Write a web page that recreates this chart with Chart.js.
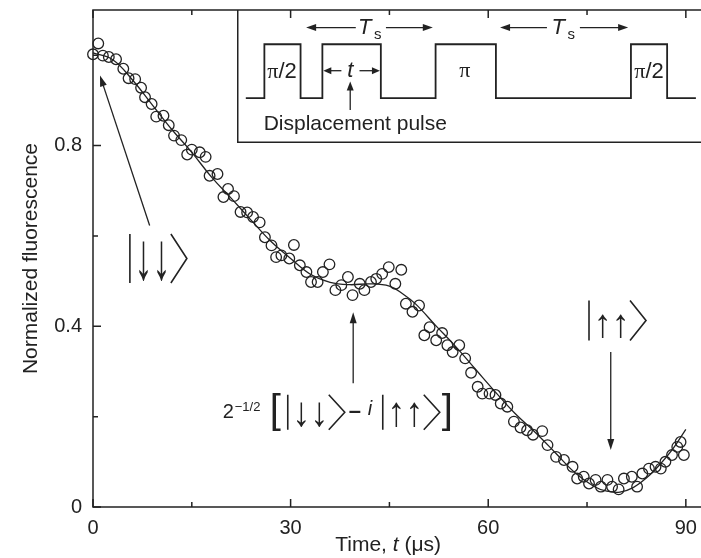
<!DOCTYPE html>
<html>
<head>
<meta charset="utf-8">
<script src="https://cdn.jsdelivr.net/npm/chart.js@4.4.1/dist/chart.umd.min.js"></script>
<style>
  body { margin: 0; background: #fff; }
  #wrap { position: relative; width: 701px; height: 558px; }
  #inset { position: absolute; left: 237px; top: 10px; }
</style>
</head>
<body>
<div id="wrap">
  <canvas id="myChart" width="701" height="558"></canvas>
  <canvas id="inset" width="464" height="133"></canvas>
</div>
<script>
// measured points (time in us, normalized fluorescence)
const times = [
  0.0, 0.8, 1.5, 2.4, 3.5, 4.6, 5.4, 6.4, 7.3, 7.9, 8.9, 9.6, 10.7, 11.5, 12.3, 13.4, 14.3, 15.0, 16.2, 17.1,
  17.7, 18.9, 19.8, 20.5, 21.4, 22.4, 23.4, 24.3, 25.3, 26.1, 27.1, 27.8, 28.6, 29.8, 30.5, 31.4, 32.4, 33.1, 34.1, 34.9,
  35.9, 36.8, 37.7, 38.7, 39.4, 40.5, 41.2, 42.2, 43.0, 43.9, 44.9, 45.9, 46.8, 47.5, 48.5, 49.5, 50.3, 51.1, 52.1, 53.0,
  53.8, 54.6, 55.6, 56.5, 57.4, 58.4, 59.1, 60.2, 61.1, 61.9, 62.9, 63.9, 64.9, 65.9, 66.8, 68.2, 69.0, 70.3, 71.5, 72.8,
  73.5, 74.5, 75.3, 76.3, 77.1, 78.1, 78.8, 79.8, 80.6, 81.8, 82.6, 83.4, 84.4, 85.4, 86.2, 86.9, 87.9, 88.7, 89.2, 89.7
];
const fluorescence = [
  1.002, 1.026, 0.999, 0.996, 0.991, 0.970, 0.949, 0.947, 0.928, 0.907, 0.892, 0.864, 0.866, 0.845, 0.822, 0.812, 0.780, 0.791, 0.785, 0.775,
  0.733, 0.737, 0.686, 0.704, 0.688, 0.653, 0.652, 0.642, 0.630, 0.597, 0.579, 0.553, 0.557, 0.550, 0.580, 0.535, 0.520, 0.498, 0.498, 0.520,
  0.537, 0.480, 0.491, 0.509, 0.469, 0.494, 0.480, 0.498, 0.505, 0.516, 0.531, 0.494, 0.525, 0.450, 0.432, 0.446, 0.380, 0.398, 0.369, 0.385,
  0.358, 0.343, 0.358, 0.329, 0.297, 0.266, 0.251, 0.251, 0.248, 0.229, 0.222, 0.189, 0.176, 0.170, 0.160, 0.168, 0.137, 0.111, 0.104, 0.089,
  0.063, 0.067, 0.052, 0.060, 0.045, 0.060, 0.045, 0.039, 0.063, 0.067, 0.045, 0.074, 0.085, 0.089, 0.085, 0.100, 0.115, 0.133, 0.144, 0.115
];
// fitted curve
const fitTimes = [0, 3, 6, 9, 12, 15, 18, 21, 24, 27, 30, 33, 36, 39, 42, 45, 47, 49, 52, 55, 58, 61, 64, 67, 70, 73, 76, 78, 80, 82, 84, 86, 88, 90];
const fitValues = [1.005, 0.99, 0.945, 0.89, 0.835, 0.785, 0.73, 0.683, 0.635, 0.588, 0.55, 0.515, 0.497, 0.492, 0.494, 0.489, 0.472, 0.449,
  0.402, 0.356, 0.306, 0.256, 0.208, 0.167, 0.123, 0.078, 0.046, 0.035, 0.033, 0.043, 0.064, 0.093, 0.128, 0.172];

const xTicks = [0, 30, 60, 90];
const xMinorTicks = [15, 45, 75];
const yTicks = [0, 0.4, 0.8];
const yMinorTicks = [0.2, 0.6, 1.0];

// inset pulse sequence (arbitrary time units 0..100)
const pulseEdges = [1.9, 5.9, 13.7, 18.4, 31.0, 42.8, 55.8, 84.9, 92.7, 98.9];
const pulseLevels = [0, 1, 0, 1, 0, 1, 0, 1, 0, 0];

const FONT = "'Liberation Sans', Arial, Helvetica, sans-serif";
const INK = '#222';

function arrow(ctx, x1, y1, x2, y2, head) {
  head = head || 9;
  const ang = Math.atan2(y2 - y1, x2 - x1);
  ctx.beginPath();
  ctx.moveTo(x1, y1);
  ctx.lineTo(x2 - Math.cos(ang) * head * 0.8, y2 - Math.sin(ang) * head * 0.8);
  ctx.stroke();
  ctx.beginPath();
  ctx.moveTo(x2, y2);
  ctx.lineTo(x2 - Math.cos(ang) * head + Math.sin(ang) * 3.5, y2 - Math.sin(ang) * head - Math.cos(ang) * 3.5);
  ctx.lineTo(x2 - Math.cos(ang) * head - Math.sin(ang) * 3.5, y2 - Math.sin(ang) * head + Math.cos(ang) * 3.5);
  ctx.closePath();
  ctx.fill();
}

// draws a glyph squeezed into a w x h box centred on cx,cy
function glyph(ctx, ch, cx, cy, w, h) {
  ctx.save();
  ctx.font = '60px ' + FONT;
  ctx.textAlign = 'left';
  ctx.textBaseline = 'alphabetic';
  const m = ctx.measureText(ch);
  const gw = m.actualBoundingBoxLeft + m.actualBoundingBoxRight;
  const gh = m.actualBoundingBoxAscent + m.actualBoundingBoxDescent;
  ctx.translate(cx, cy);
  ctx.scale(w / gw, h / gh);
  ctx.fillText(ch, (m.actualBoundingBoxLeft - m.actualBoundingBoxRight) / 2, (m.actualBoundingBoxAscent - m.actualBoundingBoxDescent) / 2);
  ctx.restore();
}

function ket(ctx, x, yc, h, ch, ah) {
  ctx.lineWidth = 1.6;
  ctx.beginPath();
  ctx.moveTo(x, yc - h / 2); ctx.lineTo(x, yc + h / 2);
  ctx.moveTo(x + 41, yc - h / 2); ctx.lineTo(x + 57, yc); ctx.lineTo(x + 41, yc + h / 2);
  ctx.stroke();
  glyph(ctx, ch, x + 14, yc + (h - ah) / 2 - 2, 9, ah);
  glyph(ctx, ch, x + 32, yc + (h - ah) / 2 - 2, 9, ah);
}

const frame = {
  id: 'frame',
  afterDraw(chart) {
    const {ctx, chartArea: a, scales: {x, y}} = chart;
    ctx.save();
    ctx.strokeStyle = INK;
    ctx.fillStyle = INK;
    ctx.lineWidth = 1.5;
    ctx.beginPath();
    ctx.moveTo(chart.width, a.top); ctx.lineTo(a.left, a.top);
    ctx.lineTo(a.left, a.bottom); ctx.lineTo(chart.width, a.bottom);
    ctx.stroke();
    ctx.beginPath();
    xTicks.concat(xMinorTicks).forEach(v => {
      const px = x.getPixelForValue(v), len = xTicks.includes(v) ? 8 : 5;
      ctx.moveTo(px, a.bottom); ctx.lineTo(px, a.bottom - len);
      ctx.moveTo(px, a.top); ctx.lineTo(px, a.top + len);
    });
    yTicks.concat(yMinorTicks).forEach(v => {
      const py = y.getPixelForValue(v), len = yTicks.includes(v) ? 8 : 5;
      ctx.moveTo(a.left, py); ctx.lineTo(a.left + len, py);
    });
    ctx.stroke();

    // x axis title with italic t
    ctx.textBaseline = 'middle';
    ctx.textAlign = 'left';
    const parts = [['Time, ', ''], ['t', 'italic '], [' (\u03bcs)', '']];
    let tw = 0;
    parts.forEach(p => { ctx.font = p[1] + '21px ' + FONT; tw += ctx.measureText(p[0]).width; });
    let tx = x.getPixelForValue(44.8) - tw / 2;
    parts.forEach(p => {
      ctx.font = p[1] + '21px ' + FONT;
      ctx.fillText(p[0], tx, 545);
      tx += ctx.measureText(p[0]).width;
    });

    // annotations
    ctx.lineWidth = 1.3;
    arrow(ctx, x.getPixelForValue(8.6), y.getPixelForValue(0.623), x.getPixelForValue(1.06), y.getPixelForValue(0.955), 11);
    arrow(ctx, x.getPixelForValue(39.5), y.getPixelForValue(0.274), x.getPixelForValue(39.5), y.getPixelForValue(0.431), 11);
    arrow(ctx, x.getPixelForValue(78.6), y.getPixelForValue(0.343), x.getPixelForValue(78.6), y.getPixelForValue(0.126), 11);

    ket(ctx, x.getPixelForValue(5.6), y.getPixelForValue(0.55), 49, '\u2193', 40);
    ket(ctx, x.getPixelForValue(75.3), y.getPixelForValue(0.413), 40, '\u2191', 24);

    // 2^-1/2 [ |dd> - i |uu> ]
    const x0 = x.getPixelForValue(19.7), yc = y.getPixelForValue(0.214);
    ctx.textAlign = 'left';
    ctx.textBaseline = 'alphabetic';
    ctx.font = '20px ' + FONT;
    ctx.fillText('2', x0, yc + 8);
    ctx.font = '13px ' + FONT;
    ctx.fillText('\u22121/2', x0 + 12, yc + 1);
    ctx.font = '40px ' + FONT;
    ctx.fillText('[', x0 + 47, yc + 13);
    ket(ctx, x0 + 65, yc + 2, 35, '\u2193', 25);
    ctx.font = 'bold 22px ' + FONT;
    ctx.fillText('\u2013', x0 + 126, yc + 8);
    ctx.font = 'italic 20px ' + FONT;
    ctx.fillText('i', x0 + 145, yc + 5);
    ket(ctx, x0 + 160, yc + 2, 35, '\u2191', 25);
    ctx.font = '40px ' + FONT;
    ctx.fillText(']', x0 + 219, yc + 13);
    ctx.restore();
  }
};

new Chart(document.getElementById('myChart'), {
  type: 'scatter',
  data: {
    datasets: [{
      type: 'line',
      label: 'fit',
      data: fitTimes.map((t, i) => ({x: t, y: fitValues[i]})),
      borderColor: INK,
      borderWidth: 1.3,
      pointRadius: 0,
      tension: 0.4,
      fill: false,
      clip: false,
      order: 2
    }, {
      label: 'data',
      data: times.map((t, i) => ({x: t, y: fluorescence[i]})),
      pointStyle: 'circle',
      pointRadius: 5.3,
      borderWidth: 1.3,
      borderColor: INK,
      backgroundColor: 'rgba(0,0,0,0)',
      clip: false,
      order: 1
    }]
  },
  options: {
    responsive: false,
    animation: false,
    devicePixelRatio: 1,
    layout: { padding: { top: 10, left: 0, right: 0, bottom: 0 } },
    plugins: { legend: { display: false }, tooltip: { enabled: false } },
    scales: {
      x: {
        type: 'linear', min: 0, max: 91.3,
        grid: { display: false, drawTicks: false },
        border: { display: false },
        afterBuildTicks: s => { s.ticks = xTicks.map(v => ({value: v})); },
        afterFit: s => { s.height = 51; s.paddingLeft = 0; s.paddingRight = 0; },
        ticks: { color: INK, padding: 9, font: { family: FONT, size: 20 }, maxRotation: 0 },
        title: { display: false }
      },
      y: {
        min: 0, max: 1.1,
        grid: { display: false, drawTicks: false },
        border: { display: false },
        afterBuildTicks: s => { s.ticks = yTicks.map(v => ({value: v})); },
        afterFit: s => { s.width = 93; s.paddingTop = 0; s.paddingBottom = 0; },
        ticks: { color: INK, padding: 11, font: { family: FONT, size: 20 }, callback: v => v === 0 ? '0' : v.toFixed(1) },
        title: { display: true, text: 'Normalized fluorescence', color: INK, padding: { top: 19, bottom: 0 }, font: { family: FONT, size: 21 } }
      }
    }
  },
  plugins: [frame]
});

// inset: pulse sequence
const insetDeco = {
  id: 'insetDeco',
  afterDraw(chart) {
    const {ctx, width, height, scales: {x, y}} = chart;
    const X = v => x.getPixelForValue(v), Y = v => y.getPixelForValue(v);
    ctx.save();
    ctx.strokeStyle = INK;
    ctx.fillStyle = INK;
    ctx.lineWidth = 1.5;
    ctx.beginPath();
    ctx.moveTo(0.75, 0); ctx.lineTo(0.75, height - 0.75); ctx.lineTo(width, height - 0.75);
    ctx.stroke();

    ctx.lineWidth = 1.3;
    // T_s spans
    arrow(ctx, X(25.6), Y(1.31), X(14.9), Y(1.31), 10);
    arrow(ctx, X(32.1), Y(1.31), X(42.2), Y(1.31), 10);
    arrow(ctx, X(66.8), Y(1.31), X(56.7), Y(1.31), 10);
    arrow(ctx, X(73.9), Y(1.31), X(84.3), Y(1.31), 10);
    // t span
    arrow(ctx, X(22.5), Y(0.51), X(18.6), Y(0.51), 8);
    arrow(ctx, X(26.4), Y(0.51), X(30.8), Y(0.51), 8);
    // displacement pulse pointer
    arrow(ctx, X(24.4), Y(-0.217), X(24.4), Y(0.31), 9);

    ctx.textBaseline = 'middle';
    ctx.textAlign = 'center';
    ctx.font = 'italic 22px ' + FONT;
    ctx.fillText('t', X(24.4), Y(0.51));
    [28.6, 70.3].forEach(cx => {
      ctx.font = 'italic 22px ' + FONT;
      ctx.fillText('T', X(cx) - 5, Y(1.31));
      ctx.font = '15px ' + FONT;
      ctx.fillText('s', X(cx) + 8, Y(1.31) + 7);
    });
    const piHalf = cx => {
      ctx.textAlign = 'left';
      ctx.font = '22px "Liberation Serif", serif';
      const w1 = ctx.measureText('\u03c0').width;
      ctx.font = '22px ' + FONT;
      const w2 = ctx.measureText('/2').width;
      const left = X(cx) - (w1 + w2) / 2;
      ctx.font = '22px "Liberation Serif", serif';
      ctx.fillText('\u03c0', left, Y(0.49));
      ctx.font = '22px ' + FONT;
      ctx.fillText('/2', left + w1, Y(0.49));
    };
    piHalf(9.7);
    piHalf(88.8);
    ctx.textAlign = 'center';
    ctx.font = '22px "Liberation Serif", serif';
    ctx.fillText('\u03c0', X(49.1), Y(0.5));
    ctx.font = '21px ' + FONT;
    ctx.fillText('Displacement pulse', X(25.5), Y(-0.476));
    ctx.restore();
  }
};

new Chart(document.getElementById('inset'), {
  type: 'line',
  data: {
    datasets: [{
      data: pulseEdges.map((t, i) => ({x: t, y: pulseLevels[i]})),
      stepped: true,
      borderColor: INK,
      borderWidth: 1.8,
      pointRadius: 0,
      fill: false
    }]
  },
  options: {
    responsive: false,
    animation: false,
    devicePixelRatio: 1,
    layout: { padding: 0 },
    plugins: { legend: { display: false }, tooltip: { enabled: false } },
    scales: {
      x: { type: 'linear', min: 0, max: 100, display: false },
      y: { min: -0.83, max: 1.635, display: false }
    }
  },
  plugins: [insetDeco]
});
</script>
</body>
</html>
